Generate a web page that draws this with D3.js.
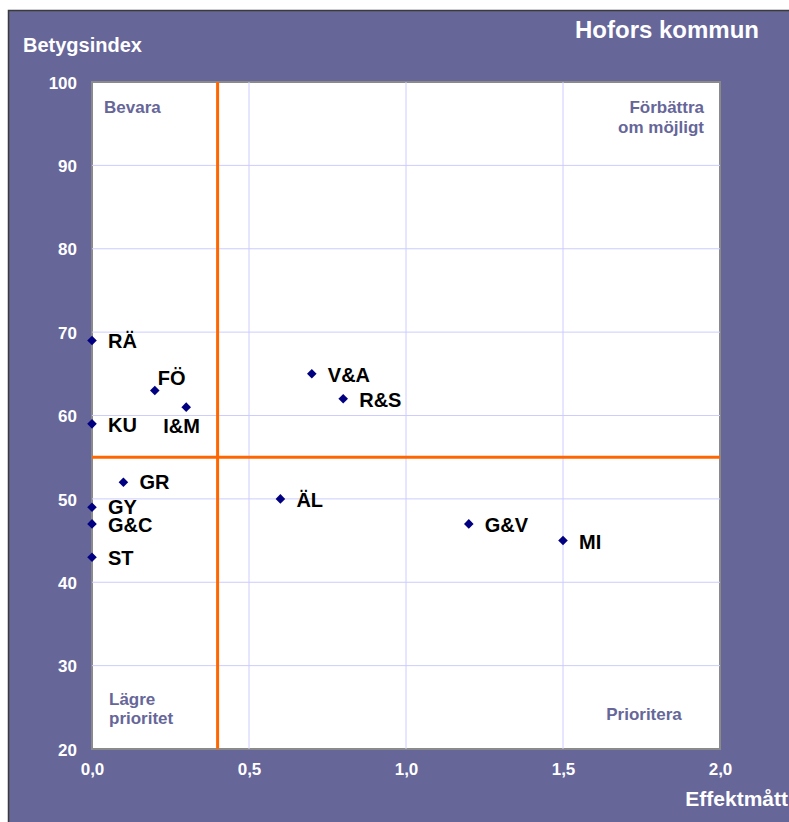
<!DOCTYPE html>
<html>
<head>
<meta charset="utf-8">
<script src="https://cdn.jsdelivr.net/npm/d3@7"></script>
<style>
  html, body { margin: 0; padding: 0; background: #ffffff; }
  svg { display: block; }
  text { font-family: "Liberation Sans", Arial, Helvetica, sans-serif; font-weight: bold; }
</style>
</head>
<body>
<div id="chart"></div>
<script>
// ---- Data ----
const labels   = ["RÄ", "FÖ", "I&M", "KU", "V&A", "R&S", "GR", "GY", "G&C", "ST", "ÄL", "G&V", "MI"];
const effekt   = [0.0, 0.2, 0.3, 0.0, 0.7, 0.8, 0.1, 0.0, 0.0, 0.0, 0.6, 1.2, 1.5];
const betyg    = [69, 63, 61, 59, 65, 62, 52, 49, 47, 43, 50, 47, 45];
const xTicks   = [0, 0.5, 1.0, 1.5, 2.0];
const yTicks   = [20, 30, 40, 50, 60, 70, 80, 90, 100];
const xSplit   = 0.4;
const ySplit   = 55;
const title    = "Hofors kommun";
const yTitle   = "Betygsindex";
const xTitle   = "Effektmått";

// ---- Layout (label offsets relative to point) ----
const labelOffset = {
  "RÄ": [16, 8], "FÖ": [3, -5], "I&M": [-23, 26], "KU": [16, 8],
  "V&A": [16, 8], "R&S": [16, 8], "GR": [16, 7], "GY": [16, 7],
  "G&C": [16, 8], "ST": [16, 8], "ÄL": [16, 8], "G&V": [16, 8], "MI": [16, 8]
};

const W = 789, H = 822;
const purple = "#666699";
const svg = d3.select("#chart").append("svg").attr("width", W).attr("height", H);

svg.append("rect").attr("x", 0).attr("y", 0).attr("width", W).attr("height", H).attr("fill", "#ffffff");
svg.append("rect").attr("x", 8).attr("y", 10).attr("width", W - 8).attr("height", H - 10).attr("fill", purple);
svg.append("path").attr("d", `M8.5,${H} V10.5 H${W}`).attr("fill", "none").attr("stroke", "#3a3a3a").attr("stroke-width", 1.5);

const x = d3.scaleLinear().domain([0, 2]).range([92, 720]);
const y = d3.scaleLinear().domain([20, 100]).range([749, 82]);

// plot area
svg.append("rect")
  .attr("x", x(0)).attr("y", y(100))
  .attr("width", x(2) - x(0)).attr("height", y(20) - y(100))
  .attr("fill", "#ffffff").attr("stroke", "#8a8a8a").attr("stroke-width", 2);

// grid
const grid = svg.append("g");
grid.selectAll("line.h").data(yTicks.filter(t => t > 20 && t < 100)).enter().append("line")
  .attr("x1", x(0)).attr("x2", x(2)).attr("y1", d => y(d)).attr("y2", d => y(d))
  .attr("stroke", "#ccccff").attr("stroke-width", 1);
grid.selectAll("line.v").data(xTicks.filter(t => t > 0 && t < 2)).enter().append("line")
  .attr("y1", y(20)).attr("y2", y(100)).attr("x1", d => x(d)).attr("x2", d => x(d))
  .attr("stroke", "#ccccff").attr("stroke-width", 1);

// axes (tick labels only)
const yAxis = d3.axisLeft(y).tickValues(yTicks).tickSize(0).tickPadding(15).tickFormat(d3.format("d"));
const gy = svg.append("g").attr("transform", `translate(${x(0)},0)`).call(yAxis);
gy.select(".domain").remove();
gy.selectAll("text").attr("fill", "#ffffff").style("font-size", "17px").style("font-family", '"Liberation Sans", Arial, sans-serif').style("font-weight", "bold").attr("dy", "0.36em");

const fmtX = d => d3.format(".1f")(d).replace(".", ",");
const xAxis = d3.axisBottom(x).tickValues(xTicks).tickSize(0).tickPadding(14).tickFormat(fmtX);
const gx = svg.append("g").attr("transform", `translate(0,${y(20)})`).call(xAxis);
gx.select(".domain").remove();
gx.selectAll("text").attr("fill", "#ffffff").style("font-size", "17px").style("font-family", '"Liberation Sans", Arial, sans-serif').style("font-weight", "bold");

// orange split lines
svg.append("line").attr("x1", x(xSplit)).attr("x2", x(xSplit)).attr("y1", y(20)).attr("y2", y(100))
  .attr("stroke", "#ff6600").attr("stroke-width", 3);
svg.append("line").attr("x1", x(0)).attr("x2", x(2)).attr("y1", y(ySplit)).attr("y2", y(ySplit))
  .attr("stroke", "#ff6600").attr("stroke-width", 3);

// quadrant labels
const q = svg.append("g").attr("fill", purple).style("font-size", "17px");
q.append("text").attr("x", 104).attr("y", 113).text("Bevara");
q.append("text").attr("x", 704).attr("y", 113).attr("text-anchor", "end").text("Förbättra");
q.append("text").attr("x", 704).attr("y", 133).attr("text-anchor", "end").text("om möjligt");
q.append("text").attr("x", 109).attr("y", 705).text("Lägre");
q.append("text").attr("x", 109).attr("y", 724).text("prioritet");
q.append("text").attr("x", 644).attr("y", 720).attr("text-anchor", "middle").text("Prioritera");

// points
const pts = labels.map((l, i) => ({ l, ex: effekt[i], by: betyg[i] }));
const sym = d3.symbol().type(d3.symbolSquare).size(46);
svg.append("g").selectAll("path").data(pts).enter().append("path")
  .attr("d", sym)
  .attr("transform", d => `translate(${x(d.ex)},${y(d.by)}) rotate(45)`)
  .attr("fill", "#000080");

svg.append("g").selectAll("text").data(pts).enter().append("text")
  .attr("x", d => x(d.ex) + labelOffset[d.l][0])
  .attr("y", d => y(d.by) + labelOffset[d.l][1])
  .attr("fill", "#000000").style("font-size", "20px")
  .text(d => d.l);

// titles
svg.append("text").attr("x", 759).attr("y", 38).attr("text-anchor", "end").attr("fill", "#ffffff").style("font-size", "24px").text(title);
svg.append("text").attr("x", 23).attr("y", 52).attr("fill", "#ffffff").style("font-size", "20px").text(yTitle);
svg.append("text").attr("x", 788).attr("y", 806).attr("text-anchor", "end").attr("fill", "#ffffff").style("font-size", "21px").text(xTitle);
</script>
</body>
</html>
